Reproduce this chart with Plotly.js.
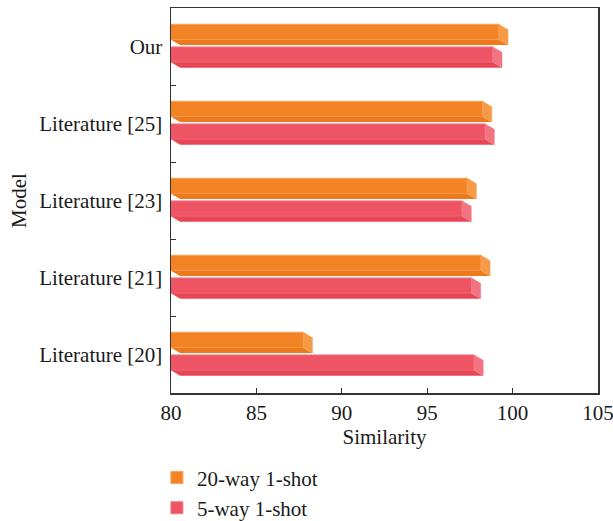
<!DOCTYPE html>
<html><head><meta charset="utf-8">
<script src="https://cdn.plot.ly/plotly-3.0.1.min.js"></script>
<style>html,body{margin:0;padding:0;background:#fff}#chart{width:613px;height:521px}</style>
</head><body><div id="chart"></div>
<script>
const models = ["Our", "Literature [25]", "Literature [23]", "Literature [21]", "Literature [20]"];
const way20 = [99.2, 98.25, 97.35, 98.15, 87.75];
const way5 = [98.85, 98.4, 97.05, 97.6, 97.75];
const seriesNames = ["20-way 1-shot", "5-way 1-shot"];
const xTicks = [80, 85, 90, 95, 100, 105];

const FONT = "Liberation Serif, Times New Roman, serif";
const FS = 21;
const styles = [
  {front: "#F38426", line: "#F7A055", side: "#F79A48", bottom: "#EC7A1C", offset: -0.289, width: 0.2},
  {front: "#EE5464", line: "#F37C88", side: "#F27382", bottom: "#E84656", offset: 0.005, width: 0.2}
];
const DX = 0.53, DY = 0.07, X0 = 80;

const series = [way20, way5];
const traces = series.map((vals, s) => ({
  type: "bar", orientation: "h", name: seriesNames[s],
  x: vals, y: models,
  offset: styles[s].offset, width: styles[s].width,
  marker: {color: styles[s].front, line: {color: styles[s].line, width: 1}},
  hoverinfo: "x+y"
}));

const shapes = [];
series.forEach((vals, s) => {
  const st = styles[s];
  vals.forEach((v, i) => {
    const yt = i + st.offset, yb = yt + st.width;
    shapes.push({type: "path", xref: "x", yref: "y", layer: "above",
      path: `M ${X0},${yb} L ${v},${yb} L ${v + DX},${yb + DY} L ${X0 + DX},${yb + DY} Z`,
      fillcolor: st.bottom, line: {width: 0}});
    shapes.push({type: "path", xref: "x", yref: "y", layer: "above",
      path: `M ${v},${yt} L ${v + DX},${yt + DY} L ${v + DX},${yb + DY} L ${v},${yb} Z`,
      fillcolor: st.side, line: {color: st.line, width: 0.5}});
  });
});

const layout = {
  width: 613, height: 521,
  margin: {l: 171, r: 15, t: 8, b: 128, autoexpand: false},
  paper_bgcolor: "#fff", plot_bgcolor: "#fff",
  font: {family: FONT, size: FS, color: "#1a1a1a"},
  showlegend: true,
  legend: {x: -0.033, y: -0.167, xanchor: "left", yanchor: "top", orientation: "v",
    font: {family: FONT, size: FS, color: "#1a1a1a"}, bgcolor: "rgba(0,0,0,0)", tracegroupgap: 0},
  xaxis: {range: [80, 105], tickvals: xTicks, ticktext: xTicks.map(String),
    ticks: "inside", ticklen: 5, tickwidth: 1, tickcolor: "#333",
    showline: true, linecolor: "#333", linewidth: 1.5, mirror: true,
    showgrid: false, zeroline: false, ticklabelstandoff: 0, automargin: false,
    ticklabeloverflow: "allow",
    title: {text: "Similarity", font: {family: FONT, size: FS, color: "#1a1a1a"}, standoff: 4}},
  yaxis: {type: "category", range: [4.5, -0.5], categoryorder: "array", categoryarray: models,
    ticks: "inside", tickson: "boundaries", ticklen: 5, tickwidth: 1, tickcolor: "#333",
    showline: true, linecolor: "#333", linewidth: 1.5, mirror: true, automargin: false,
    showgrid: false, zeroline: false, ticklabelstandoff: 3,
    title: {text: "Model", font: {family: FONT, size: FS, color: "#1a1a1a"}, standoff: 7}},
  shapes: shapes
};

Plotly.newPlot("chart", traces, layout, {staticPlot: true, displayModeBar: false});
</script></body></html>
